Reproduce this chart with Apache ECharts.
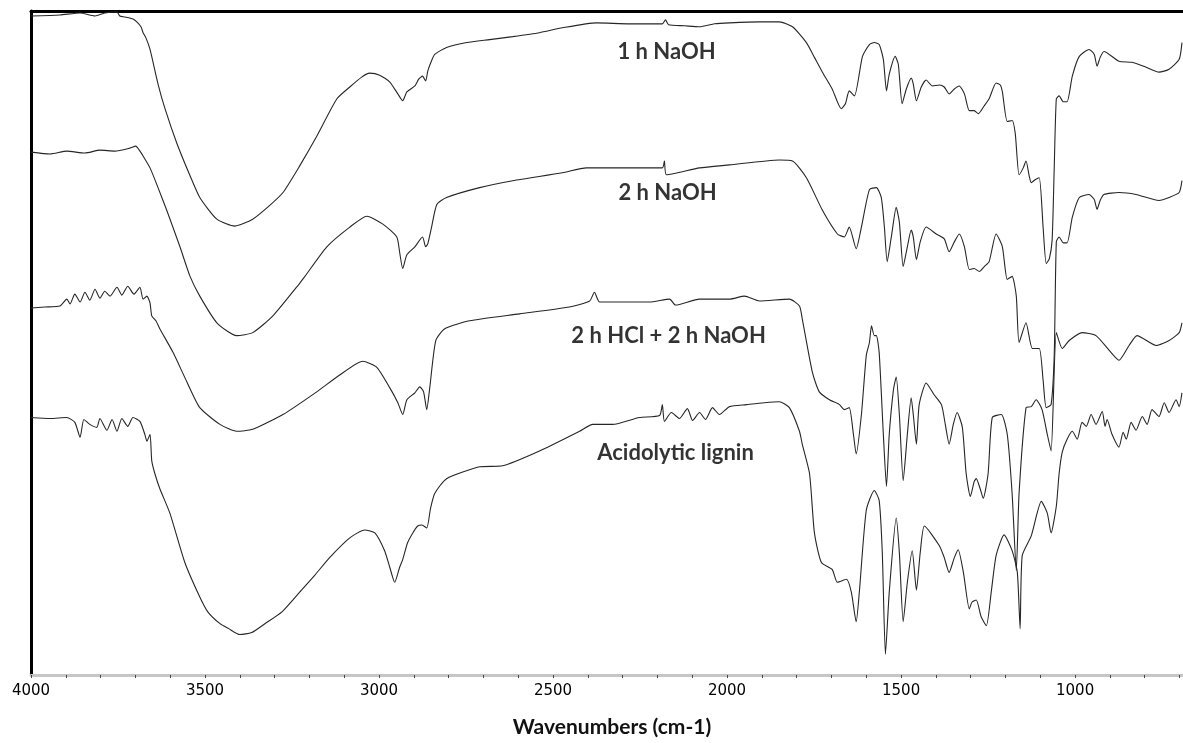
<!DOCTYPE html>
<html>
<head>
<meta charset="UTF-8">
<title>FTIR spectra</title>
<script src="https://cdn.jsdelivr.net/npm/echarts@6/dist/echarts.min.js"></script>
<style>
  html, body { margin: 0; padding: 0; background: #fff; }
  #chart { width: 1183px; height: 743px; }
</style>
</head>
<body>
<div id="chart"></div>
<script>
// x: wavenumber (cm-1), y: offset transmittance (arbitrary units)
const wn1 = [4000,3917,3859,3816,3788,3753,3745,3730,3707,3696,3684,3678,3670,3658,3635,3615,3581,3543,3515,3466,3414,3363,3314,3276,3228,3179,3121,3084,3050,3027,2998,2969,2946,2932,2920,2897,2886,2875,2866,2860,2852,2840,2806,2748,2682,2616,2539,2473,2375,2280,2186,2177,2168,2122,2079,2036,1993,1907,1850,1812,1772,1749,1726,1698,1672,1660,1649,1634,1611,1591,1577,1563,1551,1542,1534,1517,1508,1497,1485,1471,1465,1456,1442,1428,1410,1390,1376,1362,1347,1333,1318,1304,1290,1278,1261,1247,1227,1215,1209,1195,1181,1172,1161,1149,1141,1132,1126,1115,1103,1092,1083,1074,1066,1060,1054,1046,1034,1023,1008,988,960,945,937,928,917,874,836,796,759,730,701,693];
const t1 = [668,669,671,668,671,672,668,667,665,662,657,651,646,634,599,574,539,506,484,462,455,462,476,489,516,546,584,596,606,610,608,601,589,582,591,597,604,607,602,612,620,629,636,641,644,647,651,656,661,660,660,664,659,658,657,660,661,662,662,657,641,626,611,594,574,579,592,587,627,639,641,639,624,592,609,627,619,579,594,605,599,582,596,603,597,598,596,589,594,597,589,572,572,569,577,584,600,598,591,561,562,549,507,514,521,506,499,502,504,454,417,422,441,514,584,587,581,581,607,627,634,629,617,626,632,622,621,616,611,614,624,641];

const wn2 = [4000,3945,3897,3845,3802,3759,3716,3699,3687,3678,3658,3635,3610,3572,3543,3515,3466,3409,3363,3305,3228,3213,3150,3084,3035,2989,2949,2941,2932,2920,2897,2875,2866,2860,2849,2834,2806,2711,2616,2473,2404,2329,2186,2180,2174,2079,1993,1850,1812,1772,1726,1683,1663,1649,1629,1614,1591,1571,1557,1548,1540,1528,1514,1505,1494,1482,1471,1465,1456,1445,1428,1399,1376,1362,1347,1333,1318,1304,1290,1275,1261,1247,1227,1209,1195,1181,1169,1161,1141,1123,1103,1092,1083,1069,1060,1054,1046,1034,1023,1008,988,960,945,937,928,917,874,825,759,730,701,693];
const t2 = [530,528,531,529,532,531,534,536,531,526,514,494,471,434,404,384,357,344,347,364,397,404,434,454,465,457,444,429,412,426,434,444,434,437,454,477,484,494,501,509,514,514,514,521,507,514,517,522,521,504,471,447,444,454,432,454,492,494,484,454,419,444,474,459,414,434,451,444,421,439,454,447,442,429,439,447,434,411,412,409,414,419,447,434,401,404,384,337,357,331,331,299,271,274,324,439,444,438,438,464,484,487,482,472,481,487,489,487,481,484,489,501];

const wn3 = [4000,3960,3917,3897,3888,3874,3859,3845,3831,3816,3802,3788,3773,3753,3739,3722,3704,3687,3678,3667,3658,3653,3641,3630,3592,3552,3515,3457,3409,3363,3276,3179,3113,3047,3007,2969,2946,2932,2920,2897,2883,2872,2863,2854,2837,2811,2740,2596,2453,2395,2381,2366,2223,2165,2148,2079,1993,1950,1907,1821,1792,1784,1755,1735,1706,1677,1663,1649,1637,1629,1614,1600,1591,1585,1577,1571,1563,1551,1542,1534,1522,1514,1505,1494,1482,1471,1465,1456,1448,1428,1405,1384,1373,1362,1350,1339,1324,1313,1301,1290,1284,1273,1264,1250,1238,1212,1195,1181,1169,1161,1141,1126,1112,1095,1080,1069,1054,1037,1017,980,940,902,874,845,822,767,730,701,693];
const t3 = [372,373,374,381,376,386,378,388,380,391,382,389,384,393,385,394,386,393,381,384,377,364,359,351,327,297,271,254,247,249,264,287,304,318,312,291,276,264,279,286,292,287,269,292,339,351,359,366,373,379,388,378,378,381,375,381,381,384,379,381,374,361,307,287,279,274,269,271,244,224,264,324,337,354,344,344,327,244,191,244,289,302,264,197,244,281,264,234,274,296,284,274,254,234,254,266,251,204,181,196,199,189,179,204,261,264,244,184,106,184,271,272,279,269,244,227,347,331,339,347,344,329,319,334,344,334,339,347,357];

const wn4 = [4000,3945,3897,3874,3859,3848,3831,3811,3802,3782,3767,3753,3739,3722,3707,3687,3673,3667,3658,3653,3644,3630,3601,3558,3515,3492,3457,3432,3400,3366,3328,3279,3228,3185,3142,3084,3041,3012,2984,2969,2955,2941,2932,2918,2903,2889,2877,2863,2852,2840,2806,2711,2645,2539,2424,2386,2329,2252,2194,2186,2180,2160,2137,2114,2099,2079,2062,2042,2022,1993,1944,1893,1850,1821,1792,1784,1763,1749,1729,1698,1683,1657,1643,1629,1620,1600,1577,1563,1554,1545,1534,1514,1505,1494,1482,1468,1456,1445,1433,1390,1376,1362,1347,1336,1321,1304,1296,1284,1270,1255,1241,1227,1204,1181,1166,1158,1152,1126,1097,1080,1069,1054,1046,1037,1023,1008,994,980,968,954,940,922,914,908,894,874,862,853,839,825,807,793,779,759,744,730,710,701,693];
const t4 = [261,260,261,256,241,259,254,251,260,248,259,247,260,252,261,257,244,237,244,217,204,189,164,114,79,64,52,47,41,43,52,64,84,101,119,139,147,144,126,109,94,109,117,134,144,151,152,149,169,184,199,211,212,227,247,254,254,261,263,274,257,266,260,270,258,266,259,271,264,272,274,276,277,271,247,234,204,144,114,107,94,97,84,54,84,167,187,177,124,21,84,159,124,54,94,126,86,124,151,131,119,104,119,127,104,67,74,76,59,50,84,121,142,126,104,47,121,141,176,164,144,171,204,226,239,247,239,256,252,264,254,267,252,259,244,231,246,239,256,248,262,254,269,262,276,266,279,272,286];

const seriesNames = ['1 h NaOH', '2 h NaOH', '2 h HCl + 2 h NaOH', 'Acidolytic lignin'];
const labelWn = [2174, 2171, 2168, 2148];
const labelY = [632, 489, 344, 225];

const majorTicks = [4000, 3500, 3000, 2500, 2000, 1500, 1000];
const minorTicks = [];
for (let v = 4000; v >= 700; v -= 100) minorTicks.push(v);

const zip = (xs, ys) => xs.map((x, i) => [x, ys[i]]);
const traces = [zip(wn1, t1), zip(wn2, t2), zip(wn3, t3), zip(wn4, t4)];

const chart = echarts.init(document.getElementById('chart'));

const lineSeries = traces.map((d, i) => ({
    name: seriesNames[i],
    type: 'line',
    data: d,
    showSymbol: false,
    symbol: 'none',
    smooth: 0.2,
    lineStyle: {color: '#262626', width: 1.1},
    silent: true
}));

chart.setOption({
    animation: false,
    backgroundColor: '#ffffff',
    grid: {left: 31, right: 0, top: 11, bottom: 59},
    xAxis: [{
        type: 'value',
        inverse: true,
        min: 690,
        max: 4000,
        name: 'Wavenumbers (cm-1)',
        nameLocation: 'middle',
        nameGap: 42,
        nameTextStyle: {fontFamily: 'Lato', fontWeight: 'bold', fontSize: 21, color: '#111', padding: [0, 0, 0, 10]},
        axisLine: {lineStyle: {color: '#c6c6c6', width: 3}},
        axisTick: {show: true, customValues: minorTicks, length: 3, lineStyle: {color: '#444', width: 1}},
        axisLabel: {
            customValues: majorTicks,
            formatter: v => String(v),
            margin: 9,
            fontFamily: 'DejaVu Sans',
            fontSize: 15,
            color: '#000'
        },
        splitLine: {show: false}
    }, {
        type: 'value',
        position: 'top',
        inverse: true,
        min: 690,
        max: 4000,
        axisLine: {lineStyle: {color: '#000', width: 3}},
        axisTick: {show: false},
        axisLabel: {show: false},
        splitLine: {show: false}
    }],
    yAxis: {
        type: 'value',
        min: 0,
        max: 673,
        axisLine: {show: true, lineStyle: {color: '#000', width: 3}},
        axisTick: {show: false},
        axisLabel: {show: false},
        splitLine: {show: false}
    },
    series: lineSeries.concat([{
        type: 'scatter',
        symbolSize: 0.1,
        itemStyle: {color: 'rgba(0,0,0,0)'},
        data: seriesNames.map((n, i) => [labelWn[i], labelY[i], n]),
        label: {
            show: true,
            position: 'inside',
            formatter: p => p.data[2],
            fontFamily: 'Lato',
            fontWeight: 'bold',
            fontSize: 22,
            color: '#000'
        },
        silent: true
    }])
});
</script>
</body>
</html>
